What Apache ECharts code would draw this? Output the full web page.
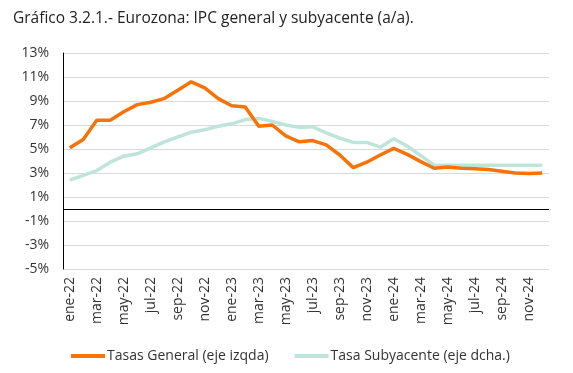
<!DOCTYPE html>
<html>
<head>
<meta charset="utf-8">
<script src="https://cdn.jsdelivr.net/npm/echarts@6/dist/echarts.min.js"></script>
<style>html,body{margin:0;padding:0;background:#fff}#c{width:573px;height:373px}</style>
</head>
<body>
<div id="c"></div>
<script>
const categories = ['ene-22','feb-22','mar-22','abr-22','may-22','jun-22','jul-22','ago-22','sep-22','oct-22','nov-22','dic-22',
  'ene-23','feb-23','mar-23','abr-23','may-23','jun-23','jul-23','ago-23','sep-23','oct-23','nov-23','dic-23',
  'ene-24','feb-24','mar-24','abr-24','may-24','jun-24','jul-24','ago-24','sep-24','oct-24','nov-24','dic-24'];
const general = [5.1,5.8,7.4,7.4,8.1,8.7,8.9,9.2,9.9,10.6,10.1,9.2,
  8.6,8.5,6.9,7.0,6.1,5.6,5.7,5.35,4.5,3.45,3.9,4.5,
  5.05,4.55,3.95,3.4,3.5,3.4,3.35,3.3,3.15,3.0,2.95,3.0];
const subyacente = [2.4,2.8,3.2,3.9,4.4,4.6,5.1,5.6,6.0,6.4,6.6,6.9,
  7.1,7.45,7.55,7.3,7.0,6.8,6.85,6.35,5.9,5.55,5.55,5.15,
  5.85,5.25,4.45,3.65,3.65,3.65,3.65,3.65,3.65,3.65,3.65,3.65];
const yMin = -5, yMax = 13, yStep = 2;
const titleText = 'Gráfico 3.2.1.- Eurozona: IPC general y subyacente (a/a).';
const seriesNames = ['Tasas General (eje izqda)', 'Tasa Subyacente (eje dcha.)'];

const FONT = 'Open Sans';
const chart = echarts.init(document.getElementById('c'), null, {renderer: 'canvas'});
chart.setOption({
  animation: false,
  backgroundColor: '#fff',
  title: {
    text: titleText, left: 8, top: 6,
    textStyle: {fontFamily: FONT, fontSize: 15.5, fontWeight: 'normal', color: '#222'}
  },
  grid: {left: 63, right: 24, top: 53, bottom: 104},
  legend: {
    left: 66, top: 344, itemGap: 26, itemWidth: 34, itemHeight: 4, icon: 'rect',
    textStyle: {fontFamily: FONT, fontSize: 14, color: '#333', padding: [0, 0, 0, -3]},
    data: seriesNames
  },
  xAxis: {
    type: 'category', data: categories, boundaryGap: true,
    axisLine: {show: false}, axisTick: {show: false},
    axisLabel: {interval: 1, rotate: 90, margin: 8, fontFamily: FONT, fontSize: 14, color: '#333'}
  },
  yAxis: {
    type: 'value', min: yMin, max: yMax, interval: yStep,
    axisLine: {show: true, lineStyle: {color: '#000', width: 1}},
    axisTick: {show: false},
    splitLine: {show: true, lineStyle: {color: '#d9d9d9', width: 1}},
    axisLabel: {margin: 14, fontFamily: FONT, fontSize: 14, color: '#333', formatter: v => v + '%'}
  },
  series: [
    {
      name: seriesNames[1], type: 'line', data: subyacente, symbol: 'none', z: 2,
      lineStyle: {color: '#BFE5DB', width: 3.5}, itemStyle: {color: '#BFE5DB'}
    },
    {
      name: seriesNames[0], type: 'line', data: general, symbol: 'none', z: 3,
      lineStyle: {color: '#F77308', width: 3.5}, itemStyle: {color: '#F77308'},
      markLine: {
        silent: true, symbol: 'none', animation: false,
        label: {show: false},
        lineStyle: {color: '#000', width: 1.2, type: 'solid'},
        data: [{yAxis: 0}]
      }
    }
  ]
});
</script>
</body>
</html>
